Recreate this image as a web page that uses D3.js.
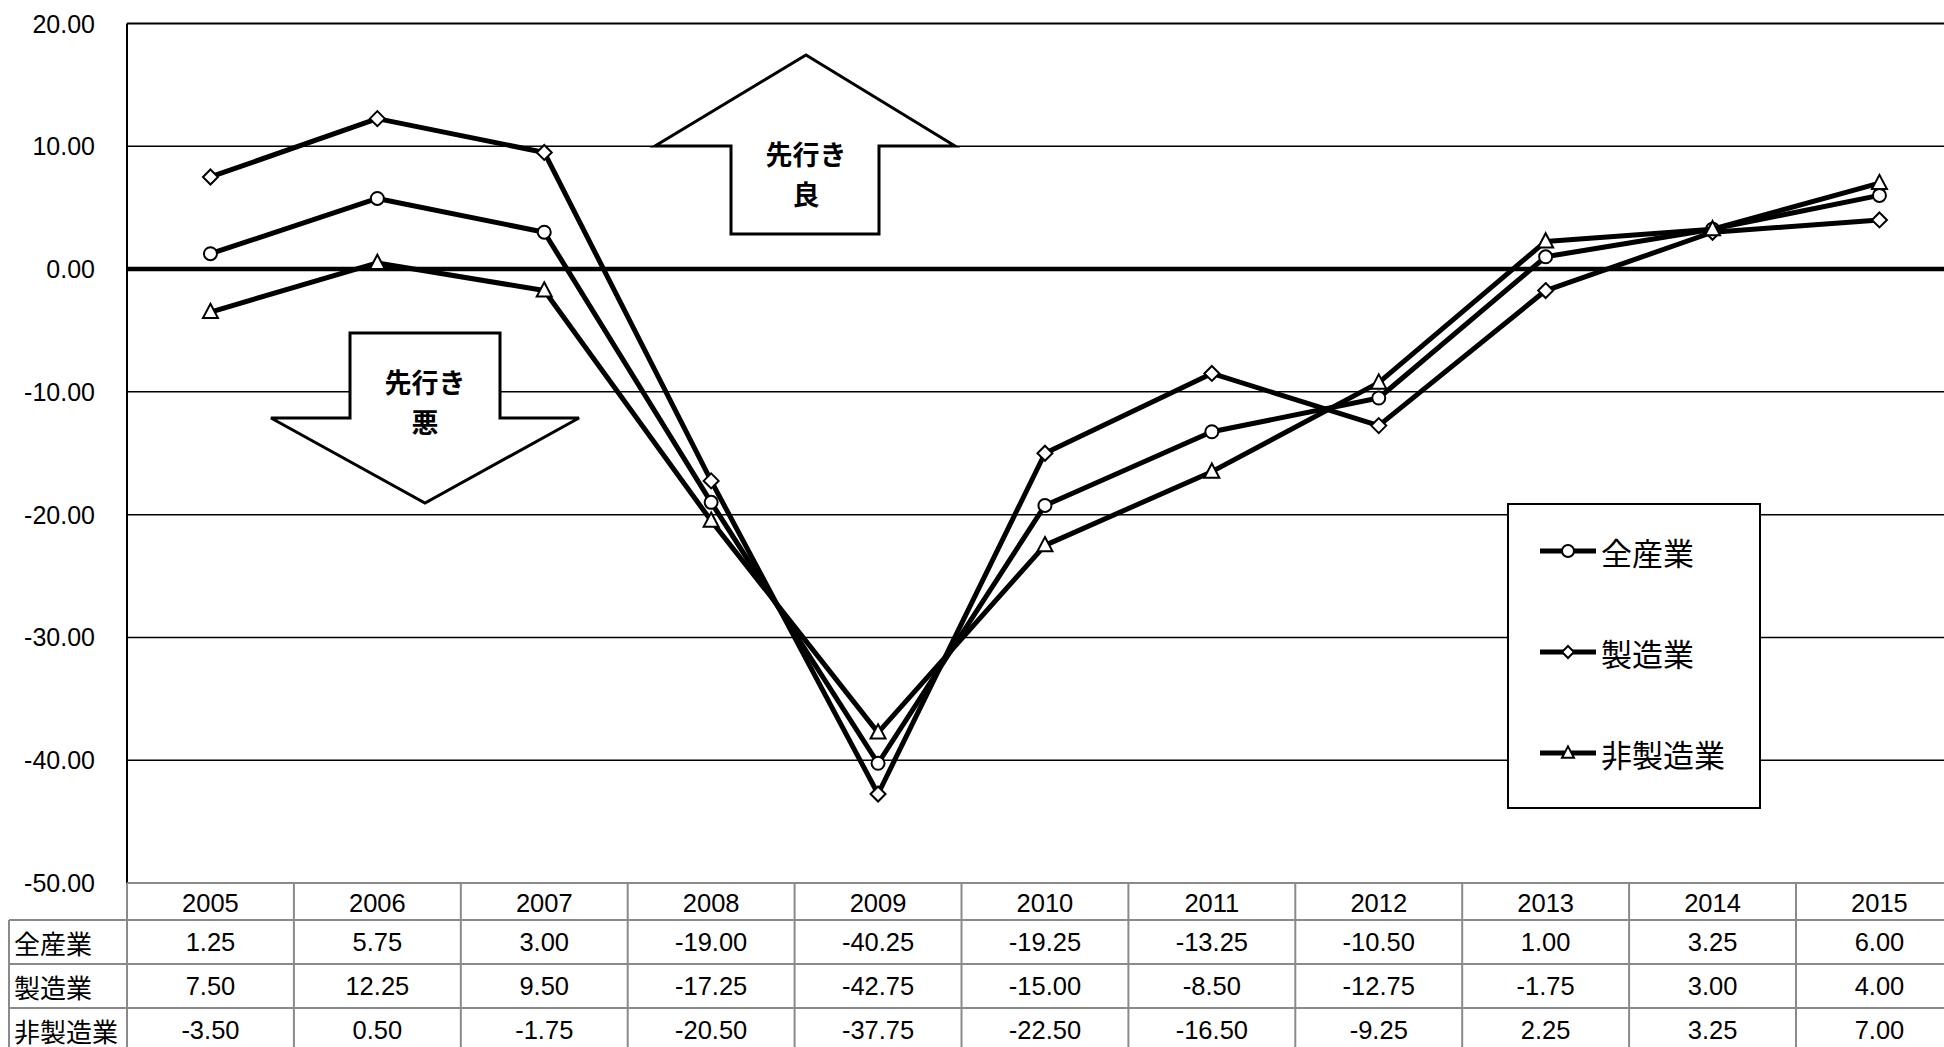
<!DOCTYPE html>
<html><head><meta charset="utf-8">
<script src="https://cdn.jsdelivr.net/npm/d3@7"></script>
<style>
html,body{margin:0;padding:0;background:#fff;overflow:hidden;}
svg{display:block;}
</style></head>
<body>
<svg id="chart" width="1944" height="1047"></svg>
<script>
const years = ["2005","2006","2007","2008","2009","2010","2011","2012","2013","2014","2015"];
const seriesNames = ["全産業","製造業","非製造業"];
const allIndustry = [1.25, 5.75, 3.00, -19.00, -40.25, -19.25, -13.25, -10.50, 1.00, 3.25, 6.00];
const manufacturing = [7.50, 12.25, 9.50, -17.25, -42.75, -15.00, -8.50, -12.75, -1.75, 3.00, 4.00];
const nonManufacturing = [-3.50, 0.50, -1.75, -20.50, -37.75, -22.50, -16.50, -9.25, 2.25, 3.25, 7.00];
const yTicks = [20, 10, 0, -10, -20, -30, -40, -50];
const markerTypes = ["circle","diamond","triangle"];

const seriesValues = [allIndustry, manufacturing, nonManufacturing];
const fmt = v => v.toFixed(2);

const svg = d3.select("#chart");
const L = 127, T = 23.5, B = 883, colW = 166.9;
const R = L + colW * years.length;
const NUM_FONT = "'Liberation Sans', Arial, sans-serif";
const CJK_FONT = "'Noto Sans CJK JP', 'Noto Sans', sans-serif";

const x = d3.scaleBand().domain(years).range([L, R]);
const y = d3.scaleLinear().domain([-50, 20]).range([B, T]);

// gridlines
const grid = svg.append("g");
grid.selectAll("line").data(yTicks.filter(v => v !== 0 && v !== -50 && v !== 20)).join("line")
  .attr("x1", L).attr("x2", R).attr("y1", d => y(d)).attr("y2", d => y(d))
  .attr("stroke", "#000").attr("stroke-width", 1.5);
// top border
svg.append("line").attr("x1", L).attr("x2", R).attr("y1", y(20)).attr("y2", y(20))
  .attr("stroke", "#000").attr("stroke-width", 1.8);

// y-axis labels
svg.append("g").selectAll("text").data(yTicks).join("text")
  .attr("x", 95).attr("y", d => y(d)).attr("text-anchor", "end")
  .attr("dominant-baseline", "central")
  .attr("font-family", NUM_FONT).attr("font-size", 25).attr("fill", "#000")
  .text(d => fmt(d));

// arrows (annotations)
function arrowPath(pts){ return "M" + pts.map(p => p.join(",")).join("L") + "Z"; }
const upArrow = [[806,55],[955,146],[879,146],[879,234],[731,234],[731,146],[655,146]];
const downArrow = [[350,333],[500,333],[500,418],[579,418],[425,503],[271,418],[350,418]];
const arrows = svg.append("g");
arrows.append("path").attr("d", arrowPath(upArrow)).attr("fill", "#fff").attr("stroke", "#000").attr("stroke-width", 3);
arrows.append("path").attr("d", arrowPath(downArrow)).attr("fill", "#fff").attr("stroke", "#000").attr("stroke-width", 3);
const arrowTexts = [
  {lines:["先行き","良"], x:806, y:153},
  {lines:["先行き","悪"], x:425, y:381}
];
arrowTexts.forEach(a => {
  a.lines.forEach((ln, i) => {
    arrows.append("text").attr("text-anchor", "middle")
      .attr("font-family", CJK_FONT).attr("font-weight", "bold").attr("font-size", 27)
      .attr("x", a.x).attr("y", a.y + i * 40)
      .attr("dominant-baseline", "central").text(ln);
  });
});

// zero line
svg.append("line").attr("x1", L).attr("x2", R).attr("y1", y(0)).attr("y2", y(0))
  .attr("stroke", "#000").attr("stroke-width", 4.5);

// left axis line
svg.append("line").attr("x1", L).attr("x2", L).attr("y1", y(20)).attr("y2", B)
  .attr("stroke", "#000").attr("stroke-width", 2);

// marker drawing
function drawMarker(g, type, cx, cy, s){
  if(type === "circle"){
    g.append("circle").attr("cx", cx).attr("cy", cy).attr("r", s)
      .attr("fill", "#fff").attr("stroke", "#000").attr("stroke-width", 2);
  } else if(type === "diamond"){
    g.append("path").attr("d", `M${cx},${cy-s}L${cx+s},${cy}L${cx},${cy+s}L${cx-s},${cy}Z`)
      .attr("fill", "#fff").attr("stroke", "#000").attr("stroke-width", 2);
  } else {
    g.append("path").attr("d", `M${cx},${cy-s*1.1}L${cx+s},${cy+s*0.8}L${cx-s},${cy+s*0.8}Z`)
      .attr("fill", "#fff").attr("stroke", "#000").attr("stroke-width", 2);
  }
}

const line = d3.line().x((d,i) => x(years[i]) + x.bandwidth()/2).y(d => y(d));
const plot = svg.append("g");
seriesValues.forEach((vals, si) => {
  const g = plot.append("g");
  g.append("path").attr("d", line(vals)).attr("fill", "none")
    .attr("stroke", "#000").attr("stroke-width", 5).attr("stroke-linejoin", "round");
  vals.forEach((v, i) => {
    const s = markerTypes[si] === "circle" ? 6.5 : 7.5;
    drawMarker(g, markerTypes[si], x(years[i]) + x.bandwidth()/2, y(v), s);
  });
});

// legend
const leg = svg.append("g");
leg.append("rect").attr("x", 1508).attr("y", 504).attr("width", 252).attr("height", 304)
  .attr("fill", "#fff").attr("stroke", "#000").attr("stroke-width", 2);
const legY = [551, 652, 753];
seriesNames.forEach((name, i) => {
  leg.append("line").attr("x1", 1540).attr("x2", 1596).attr("y1", legY[i]).attr("y2", legY[i])
    .attr("stroke", "#000").attr("stroke-width", 5);
  drawMarker(leg, markerTypes[i], 1568, legY[i], 6);
  leg.append("text").attr("x", 1601).attr("y", legY[i]).attr("dominant-baseline", "central")
    .attr("font-family", CJK_FONT).attr("font-size", 31).text(name);
});

// data table
const tbl = svg.append("g");
const rowTops = [883, 920, 964, 1008, 1052];
const labelLeft = 9;
const GRAY = "#8a8a8a";
tbl.append("line").attr("x1", L).attr("x2", R).attr("y1", rowTops[0]).attr("y2", rowTops[0]).attr("stroke", GRAY).attr("stroke-width", 2);
rowTops.slice(1).forEach(t => {
  tbl.append("line").attr("x1", labelLeft).attr("x2", R).attr("y1", t).attr("y2", t).attr("stroke", GRAY).attr("stroke-width", 2);
});
tbl.append("line").attr("x1", labelLeft).attr("x2", labelLeft).attr("y1", rowTops[1]).attr("y2", rowTops[4]).attr("stroke", GRAY).attr("stroke-width", 2);
years.concat(["end"]).forEach((yr, i) => {
  const xx = L + i * x.bandwidth();
  tbl.append("line").attr("x1", xx).attr("x2", xx).attr("y1", rowTops[0]).attr("y2", rowTops[4]).attr("stroke", GRAY).attr("stroke-width", 2);
});
tbl.selectAll("text.yr").data(years).join("text").attr("class", "yr")
  .attr("x", d => x(d) + x.bandwidth()/2).attr("y", (rowTops[0]+rowTops[1])/2 + 1)
  .attr("text-anchor", "middle").attr("dominant-baseline", "central")
  .attr("font-family", NUM_FONT).attr("font-size", 25.5).text(d => d);
seriesNames.forEach((name, si) => {
  const cy = (rowTops[si+1] + rowTops[si+2]) / 2;
  tbl.append("text").attr("x", 14).attr("y", cy).attr("dominant-baseline", "central")
    .attr("font-family", CJK_FONT).attr("font-size", 26).text(name);
  seriesValues[si].forEach((v, i) => {
    tbl.append("text").attr("x", x(years[i]) + x.bandwidth()/2).attr("y", cy)
      .attr("text-anchor", "middle").attr("dominant-baseline", "central")
      .attr("font-family", NUM_FONT).attr("font-size", 25.5).text(fmt(v));
  });
});
</script>
</body></html>
